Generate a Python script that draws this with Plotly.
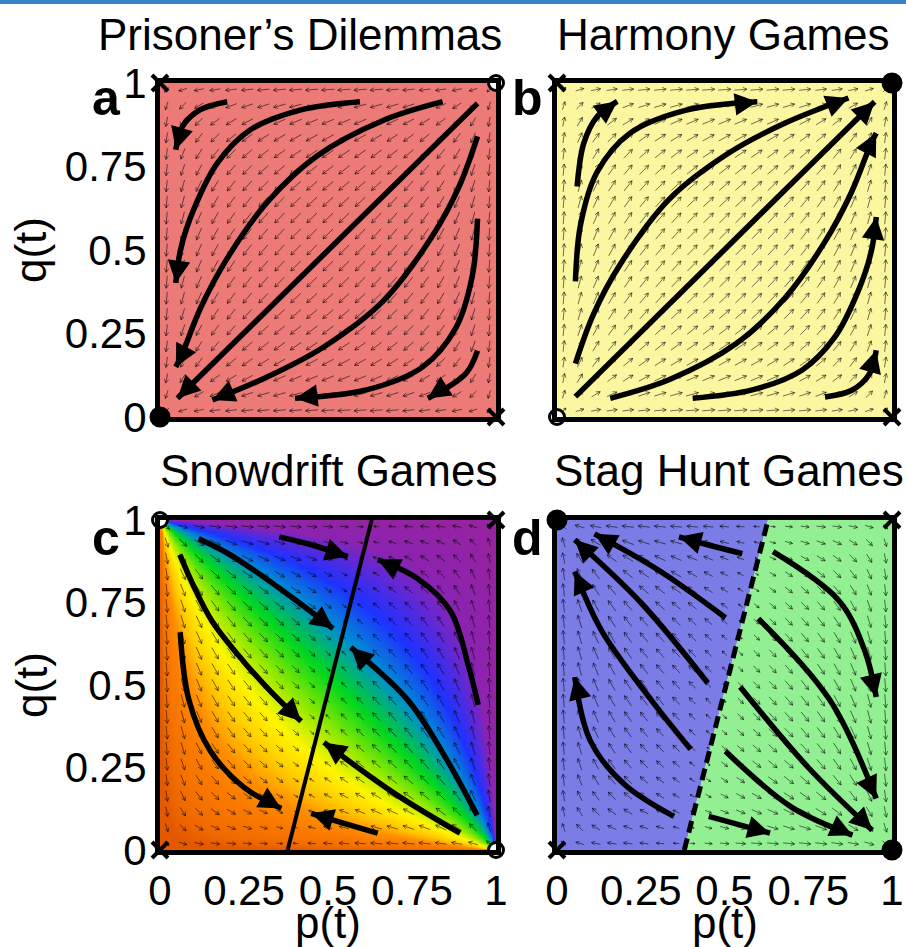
import numpy as np
import plotly.graph_objects as go

# ---------------- data ----------------
panel_titles = ["Prisoner’s Dilemmas", "Harmony Games", "Snowdrift Games", "Stag Hunt Games"]
panel_letters = ["a", "b", "c", "d"]
tick_vals = [0, 0.25, 0.5, 0.75, 1]
tick_text = ["0", "0.25", "0.5", "0.75", "1"]
x_title = "p(t)"
y_title = "q(t)"

# corner fixed points: (p, q) and kind
corner_p = [0, 1, 0, 1]
corner_q = [1, 1, 0, 0]
a_corner_kind = ["saddle", "source", "sink", "saddle"]
b_corner_kind = ["saddle", "sink", "source", "saddle"]
c_corner_kind = ["source", "saddle", "saddle", "source"]
d_corner_kind = ["sink", "saddle", "saddle", "sink"]

# line of interior equilibria / separatrix (p at q=0 and at q=1)
mixed_line_p = [0.38, 0.63]
mixed_line_q = [0.0, 1.0]

# thick trajectories (first point = start, last point = arrow tip)
a_stream_p = [
    [0.20, 0.12, 0.067, 0.047],
    [0.595, 0.417, 0.269, 0.171, 0.101, 0.062, 0.047],
    [0.841, 0.664, 0.466, 0.319, 0.200, 0.121, 0.062, 0.047],
    [0.945, 0.052],
    [0.945, 0.891, 0.812, 0.664, 0.486, 0.319, 0.156],
    [0.945, 0.930, 0.881, 0.782, 0.614, 0.402],
    [0.945, 0.910, 0.797],
]
a_stream_q = [
    [0.944, 0.92, 0.87, 0.80],
    [0.944, 0.919, 0.860, 0.761, 0.623, 0.505, 0.401],
    [0.944, 0.888, 0.781, 0.643, 0.475, 0.327, 0.179, 0.150],
    [0.939, 0.056],
    [0.840, 0.692, 0.544, 0.347, 0.209, 0.120, 0.051],
    [0.594, 0.426, 0.268, 0.150, 0.081, 0.056],
    [0.199, 0.130, 0.056],
]
b_stream_p = [
    [0.06, 0.08, 0.12, 0.18],
    [0.055, 0.070, 0.119, 0.218, 0.386, 0.598],
    [0.055, 0.109, 0.188, 0.336, 0.514, 0.681, 0.87],
    [0.055, 0.948],
    [0.159, 0.336, 0.534, 0.681, 0.800, 0.879, 0.938, 0.953],
    [0.405, 0.583, 0.731, 0.829, 0.899, 0.938, 0.953],
    [0.80, 0.88, 0.933, 0.953],
]
b_stream_q = [
    [0.69, 0.82, 0.90, 0.945],
    [0.406, 0.574, 0.732, 0.850, 0.919, 0.944],
    [0.160, 0.308, 0.456, 0.653, 0.791, 0.880, 0.955],
    [0.061, 0.944],
    [0.056, 0.112, 0.219, 0.357, 0.525, 0.673, 0.821, 0.850],
    [0.056, 0.081, 0.140, 0.239, 0.377, 0.495, 0.599],
    [0.06, 0.08, 0.13, 0.20],
]
c_stream_p = [
    [0.355, 0.45, 0.559],
    [0.115, 0.20, 0.272, 0.40, 0.515],
    [0.059, 0.10, 0.154, 0.25, 0.33, 0.42],
    [0.06, 0.086, 0.15, 0.25, 0.361],
    [0.947, 0.92, 0.864, 0.766, 0.648],
    [0.944, 0.85, 0.737, 0.568],
    [0.893, 0.70, 0.488],
    [0.648, 0.55, 0.450],
]
c_stream_q = [
    [0.949, 0.925, 0.889],
    [0.943, 0.90, 0.853, 0.76, 0.671],
    [0.895, 0.80, 0.695, 0.57, 0.48, 0.39],
    [0.66, 0.455, 0.30, 0.19, 0.126],
    [0.440, 0.55, 0.725, 0.823, 0.880],
    [0.105, 0.28, 0.455, 0.614],
    [0.051, 0.17, 0.326],
    [0.051, 0.08, 0.111],
]
d_stream_p = [
    [0.553, 0.45, 0.364],
    [0.503, 0.30, 0.112],
    [0.450, 0.25, 0.053],
    [0.399, 0.281, 0.133, 0.053],
    [0.349, 0.20, 0.10, 0.053],
    [0.645, 0.843, 0.92, 0.953],
    [0.601, 0.814, 0.953],
    [0.547, 0.75, 0.941],
    [0.503, 0.70, 0.882],
    [0.453, 0.636],
]
d_stream_q = [
    [0.898, 0.925, 0.949],
    [0.704, 0.85, 0.958],
    [0.506, 0.75, 0.940],
    [0.305, 0.455, 0.665, 0.844],
    [0.102, 0.20, 0.33, 0.524],
    [0.904, 0.754, 0.60, 0.464],
    [0.701, 0.455, 0.156],
    [0.494, 0.25, 0.060],
    [0.299, 0.13, 0.045],
    [0.102, 0.051],
]

# ---------------- layout geometry ----------------
W, H = 906, 947
FONT = "Liberation Sans, Arial, sans-serif"
dom_px = {
    "a": ([160, 496], [83, 417]),
    "b": ([557, 892], [83, 417]),
    "c": ([160, 496], [520, 850]),
    "d": ([557, 892], [520, 850]),
}
axid = {"a": ("x", "y"), "b": ("x2", "y2"), "c": ("x3", "y3"), "d": ("x4", "y4")}

fig = go.Figure()

# ---------------- backgrounds ----------------
shapes = []
shapes.append(dict(type="rect", xref="x", yref="y", x0=0, x1=1, y0=0, y1=1,
                   fillcolor="rgb(236,122,119)", line_width=0, layer="below"))
shapes.append(dict(type="rect", xref="x2", yref="y2", x0=0, x1=1, y0=0, y1=1,
                   fillcolor="rgb(251,246,160)", line_width=0, layer="below"))
p0, p1 = mixed_line_p
q0, q1 = mixed_line_q
shapes.append(dict(type="path", xref="x4", yref="y4",
                   path=f"M 0 0 L {p0} {q0} L {p1} {q1} L 0 1 Z",
                   fillcolor="rgb(124,124,230)", line_width=0, layer="below"))
shapes.append(dict(type="path", xref="x4", yref="y4",
                   path=f"M {p0} {q0} L 1 0 L 1 1 L {p1} {q1} Z",
                   fillcolor="rgb(146,240,146)", line_width=0, layer="below"))
# thin blue bar at top of page
shapes.append(dict(type="rect", xref="paper", yref="paper", x0=0, x1=1, y0=1 - 4 / H, y1=1,
                   fillcolor="rgb(60,128,198)", line_width=0))

# snowdrift colouring by trajectory invariant logit(p)+logit(q)
g = np.linspace(0.0025, 0.9975, 200)
PP, QQ = np.meshgrid(g, g)
S = np.log(PP / (1 - PP)) + np.log(QQ / (1 - QQ))
stops = [(-6, "rgb(228,88,0)"), (-3.0, "rgb(250,122,0)"), (-2.3, "rgb(255,140,0)"),
         (-1.7, "rgb(255,200,0)"), (-1.1, "rgb(255,245,0)"), (-0.5, "rgb(140,232,0)"),
         (0.1, "rgb(0,215,30)"), (0.8, "rgb(0,140,210)"), (1.5, "rgb(30,50,255)"),
         (2.3, "rgb(100,40,210)"), (2.9, "rgb(140,35,175)"), (6, "rgb(150,35,160)")]
cscale = [[(s + 6) / 12, c] for s, c in stops]
fig.add_trace(go.Heatmap(x=g, y=g, z=np.clip(S, -6, 6), zmin=-6, zmax=6, colorscale=cscale,
                         showscale=False, zsmooth="best", xaxis="x3", yaxis="y3", hoverinfo="skip"))


# ---------------- direction fields ----------------
def field(key, P, Q):
    if key == "a":
        return -P * (1 - P), -Q * (1 - Q)
    if key == "b":
        return P * (1 - P), Q * (1 - Q)
    F = (p0 + (p1 - p0) * Q) - P
    sg = 1 if key == "c" else -1
    return sg * P * (1 - P) * F, -sg * Q * (1 - Q) * F


def quiver(key):
    gg = np.linspace(0.02, 0.98, 21)
    P, Q = np.meshgrid(gg, gg)
    U, V = field(key, P, Q)
    M = np.hypot(U, V)
    Mmax = M.max()
    xs, ys = [], []
    for p, q, u, v, m in zip(P.ravel(), Q.ravel(), U.ravel(), V.ravel(), M.ravel()):
        if m < 1e-6 * Mmax:
            continue
        ux, uy = u / m, v / m
        L = 0.042 * (m / Mmax) ** 0.3
        x0, y0 = p - ux * L / 2, q - uy * L / 2
        x1, y1 = p + ux * L / 2, q + uy * L / 2
        xs += [x0, x1, None]
        ys += [y0, y1, None]
        h = min(0.013, 0.45 * L)
        for a in (0.5, -0.5):
            hx = x1 - h * (ux * np.cos(a) - uy * np.sin(a))
            hy = y1 - h * (ux * np.sin(a) + uy * np.cos(a))
            xs += [x1, hx, None]
            ys += [y1, hy, None]
    xa, ya = axid[key]
    fig.add_trace(go.Scatter(x=xs, y=ys, mode="lines", xaxis=xa, yaxis=ya,
                             line=dict(color="rgba(0,0,0,0.55)", width=1),
                             hoverinfo="skip", showlegend=False))


for k in "abcd":
    quiver(k)

# mixed line (solid in c, dashed in d)
fig.add_trace(go.Scatter(x=mixed_line_p, y=mixed_line_q, mode="lines", xaxis="x3", yaxis="y3",
                         line=dict(color="black", width=4), showlegend=False, hoverinfo="skip"))
fig.add_trace(go.Scatter(x=mixed_line_p, y=mixed_line_q, mode="lines", xaxis="x4", yaxis="y4",
                         line=dict(color="black", width=5, dash="12px,6px"), showlegend=False,
                         hoverinfo="skip"))

annotations = []
streams = {"a": (a_stream_p, a_stream_q), "b": (b_stream_p, b_stream_q),
           "c": (c_stream_p, c_stream_q), "d": (d_stream_p, d_stream_q)}
for k, (SP, SQ) in streams.items():
    xa, ya = axid[k]
    for ps, qs in zip(SP, SQ):
        fig.add_trace(go.Scatter(x=ps, y=qs, mode="lines", xaxis=xa, yaxis=ya,
                                 line=dict(color="black", width=5.5, shape="spline", smoothing=1.0),
                                 showlegend=False, hoverinfo="skip"))
        dx, dy = ps[-1] - ps[-2], qs[-1] - qs[-2]
        n = np.hypot(dx, dy)
        annotations.append(dict(x=ps[-1], y=qs[-1], ax=ps[-1] - 0.04 * dx / n, ay=qs[-1] - 0.04 * dy / n,
                                xref=xa, yref=ya, axref=xa, ayref=ya, text="", showarrow=True,
                                arrowhead=2, arrowsize=0.9, arrowwidth=5, arrowcolor="black",
                                standoff=0))

# corner markers
kinds = {"a": a_corner_kind, "b": b_corner_kind, "c": c_corner_kind, "d": d_corner_kind}
sym = {"saddle": "x-thin", "sink": "circle", "source": "circle"}
for k, kl in kinds.items():
    xa, ya = axid[k]
    fig.add_trace(go.Scatter(
        x=corner_p, y=corner_q, mode="markers", xaxis=xa, yaxis=ya, cliponaxis=False,
        marker=dict(symbol=[sym[t] for t in kl], opacity=1,
                    size=[16 if t == "saddle" else (18 if t == "sink" else 15) for t in kl],
                    color=["black" if t != "source" else "white" for t in kl],
                    line=dict(color="black", width=[4 if t == "saddle" else 3 for t in kl])),
        showlegend=False, hoverinfo="skip"))

# ---------------- axes ----------------
layout_axes = {}
for k in "abcd":
    (x0p, x1p), (y0p, y1p) = dom_px[k]
    xa, ya = axid[k]
    xname = "xaxis" if xa == "x" else "xaxis" + xa[1:]
    yname = "yaxis" if ya == "y" else "yaxis" + ya[1:]
    show_x = k in "cd"
    show_y = k in "ac"
    common = dict(range=[0, 1], showgrid=False, zeroline=False, showline=True, mirror=True,
                  linewidth=5, linecolor="black", ticks="", tickvals=tick_vals, ticktext=tick_text,
                  tickfont=dict(family=FONT, size=42, color="black"), fixedrange=True,
                  automargin=False)
    layout_axes[xname] = dict(common, domain=[x0p / W, x1p / W], anchor=ya,
                              showticklabels=show_x, ticklabelstandoff=0)
    layout_axes[yname] = dict(common, domain=[1 - y1p / H, 1 - y0p / H], anchor=xa,
                              showticklabels=show_y, ticklabelstandoff=0)

# titles and letters
title_pos = [(300, 35), (723, 35), (328, 470), (729, 470)]
for t, (xp, yp) in zip(panel_titles, title_pos):
    annotations.append(dict(x=xp / W, y=1 - yp / H, xref="paper", yref="paper", text=t,
                            showarrow=False, xanchor="center", yanchor="middle",
                            font=dict(family=FONT, size=44, color="black")))
letter_pos = [(106, 98), (527, 98), (106, 538), (527, 538)]
for t, (xp, yp) in zip(panel_letters, letter_pos):
    annotations.append(dict(x=xp / W, y=1 - yp / H, xref="paper", yref="paper", text=f"<b>{t}</b>",
                            showarrow=False, xanchor="center", yanchor="middle",
                            font=dict(family=FONT, size=50, color="black")))
for yp in (250, 685):
    annotations.append(dict(x=31 / W, y=1 - yp / H, xref="paper", yref="paper", text=y_title,
                            showarrow=False, textangle=-90, xanchor="center", yanchor="middle",
                            font=dict(family=FONT, size=44, color="black")))
for xp in (328, 725):
    annotations.append(dict(x=xp / W, y=1 - 922 / H, xref="paper", yref="paper", text=x_title,
                            showarrow=False, xanchor="center", yanchor="middle",
                            font=dict(family=FONT, size=44, color="black")))

fig.update_layout(width=W, height=H, margin=dict(l=0, r=0, t=0, b=0, autoexpand=False),
                  paper_bgcolor="white", plot_bgcolor="rgba(0,0,0,0)",
                  showlegend=False, shapes=shapes, annotations=annotations, **layout_axes)

fig.write_html("out.html")
